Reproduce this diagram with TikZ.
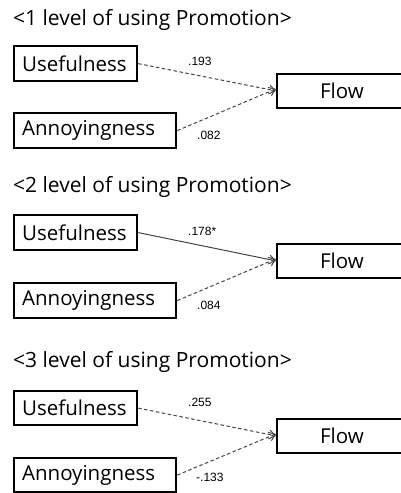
\documentclass[tikz,border=0pt]{standalone}
\usepackage{fontspec}
\setmainfont{Open Sans}
\newfontfamily\numfont{Liberation Sans}
\usetikzlibrary{arrows.meta}
\definecolor{linegray}{HTML}{444444}
\tikzset{
  x=1pt, y=-1pt,
  titletext/.style={anchor=base west, inner sep=0pt, font=\fontsize{21}{24}\selectfont},
  varbox/.style={draw=black, line width=2.2pt, anchor=north west, inner xsep=8pt, inner ysep=0pt, align=left, font=\fontsize{20.5}{24}\selectfont},
  flowbox/.style={draw=black, line width=1.8pt, anchor=north west, inner sep=0pt, minimum width=130pt, minimum height=34pt, font=\fontsize{20.5}{24}\selectfont},
  coef/.style={anchor=base west, inner sep=0pt, font=\numfont\fontsize{12}{13}\selectfont},
  path dashed/.style={draw=linegray, line width=1pt, dash pattern=on 3.5pt off 2.5pt, -{Straight Barb[length=6pt,width=9pt]}},
  path solid/.style={draw=linegray, line width=1pt, -{Straight Barb[length=6pt,width=9pt]}},
}
\begin{document}
\begin{tikzpicture}
\useasboundingbox[fill=white] (0,0) rectangle (400,493);

% ---------- Panel 1 ----------
\node[titletext] (t1) at (13,25) {<1 level of using Promotion>};
\node[varbox, text width=107pt, minimum height=35pt] (u1) at (13,45) {Usefulness};
\node[varbox, text width=146pt, minimum height=35pt] (a1) at (13,112) {Annoyingness};
\node[flowbox] (f1) at (276,73) {Flow};
\draw[path dashed] (u1.east) -- (f1.west);
\draw[path dashed] (a1.east) -- ([yshift=2pt]f1.west);
\node[coef] (c1a) at (188,65) {.193};
\node[coef] (c1b) at (197,139) {.082};

% ---------- Panel 2 ----------
\node[titletext] (t2) at (13,192) {<2 level of using Promotion>};
\node[varbox, text width=107pt, minimum height=35pt] (u2) at (13,214) {Usefulness};
\node[varbox, text width=146pt, minimum height=35pt] (a2) at (13,282) {Annoyingness};
\node[flowbox] (f2) at (276,243) {Flow};
\draw[path solid] (u2.east) -- (f2.west);
\draw[path dashed] (a2.east) -- ([yshift=2pt]f2.west);
\node[coef] (c2a) at (188,235) {.178*};
\node[coef] (c2b) at (197,309) {.084};

% ---------- Panel 3 ----------
\node[titletext] (t3) at (13,367) {<3 level of using Promotion>};
\node[varbox, text width=107pt, minimum height=34pt] (u3) at (13,390) {Usefulness};
\node[varbox, text width=146pt, minimum height=34pt] (a3) at (13,457) {Annoyingness};
\node[flowbox] (f3) at (276,418) {Flow};
\draw[path dashed] (u3.east) -- (f3.west);
\draw[path dashed] (a3.east) -- ([yshift=2pt]f3.west);
\node[coef] (c3a) at (188,406) {.255};
\node[coef] (c3b) at (196,481) {-.133};
\end{tikzpicture}
\end{document}
